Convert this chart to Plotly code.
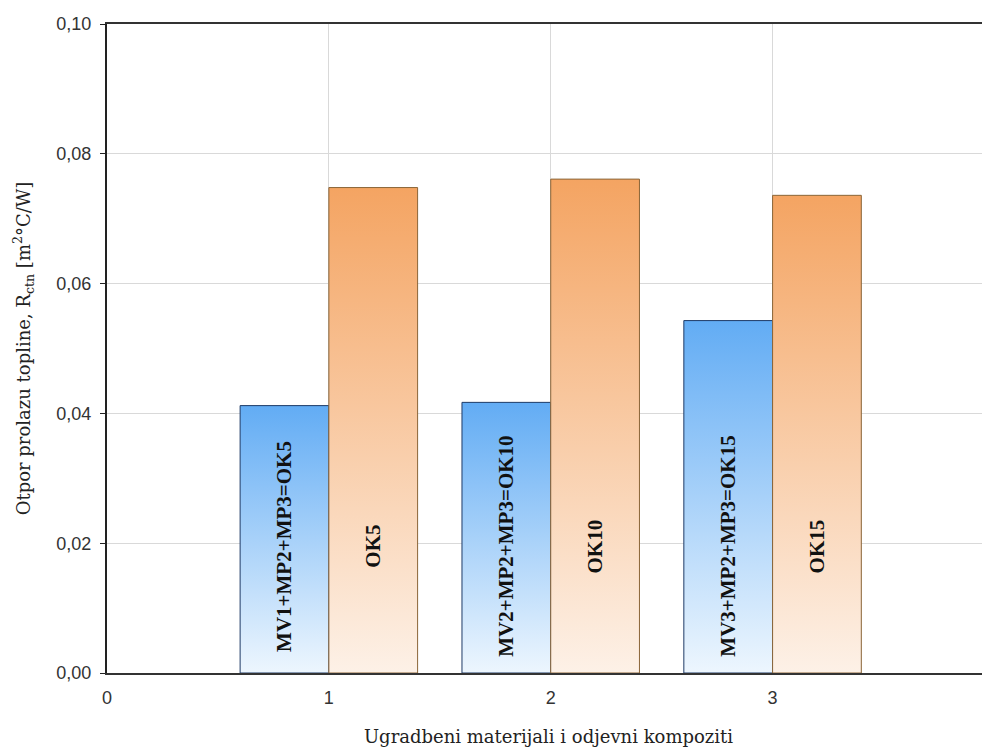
import plotly.graph_objects as go

# ---- data ----
groups = [1, 2, 3]
blue_values = [0.0412, 0.0417, 0.0543]
orange_values = [0.0748, 0.0761, 0.0736]
blue_labels = ["MV1+MP2+MP3=OK5", "MV2+MP2+MP3=OK10", "MV3+MP2+MP3=OK15"]
orange_labels = ["OK5", "OK10", "OK15"]
label_y = [0.0195, 0.0195, 0.0195]
y_tick_vals = [0.0, 0.02, 0.04, 0.06, 0.08, 0.10]
y_tick_text = ["0,00", "0,02", "0,04", "0,06", "0,08", "0,10"]
x_tick_vals = [0, 1, 2, 3, 4]
x_tick_text = ["0", "1", "2", "3", "4"]

# ---- style ----
BAR_W = 0.4
series = [
    dict(values=blue_values, labels=blue_labels, offset=-0.2,
         line="#1e3a66", top="#62acf4", bottom="#edf6fe"),
    dict(values=orange_values, labels=orange_labels, offset=0.2,
         line="#8a6538", top="#f4a462", bottom="#fdf1e7"),
]

fig = go.Figure()
annotations = []
for s in series:
    for g, v, lab, ly in zip(groups, s["values"], s["labels"], label_y):
        xc = g + s["offset"]
        x0, x1 = xc - BAR_W / 2, xc + BAR_W / 2
        fig.add_trace(go.Scatter(
            x=[x0, x0, x1, x1, x0], y=[0, v, v, 0, 0],
            mode="lines", fill="toself",
            fillgradient=dict(type="vertical",
                              colorscale=[[0, s["bottom"]], [1, s["top"]]]),
            line=dict(color=s["line"], width=1),
            showlegend=False, hoverinfo="skip",
        ))
        annotations.append(dict(
            x=xc, y=ly, xref="x", yref="y", text="<b>" + lab + "</b>",
            textangle=-90, showarrow=False,
            font=dict(family="Liberation Serif", size=21, color="#111111"),
        ))

# the page body adds an 8px offset, so the figure is 8px smaller with 8px less margin
fig.update_layout(
    width=982, height=741,
    margin=dict(l=99, r=0, t=16, b=76),
    paper_bgcolor="white", plot_bgcolor="white",
    showlegend=False,
    annotations=annotations,
    xaxis=dict(
        range=[0, 3.98], tickvals=x_tick_vals, ticktext=x_tick_text,
        showgrid=True, gridcolor="#d9d9d9", gridwidth=1,
        zeroline=False, showline=True, linecolor="#333333", linewidth=2,
        mirror=True, ticks="", ticklabelstandoff=7,
        tickfont=dict(family="Liberation Sans", size=18, color="#333333"),
        title=dict(text="Ugradbeni materijali i odjevni kompoziti",
                   font=dict(family="DejaVu Serif", size=18, color="#222222"),
                   standoff=24),
        automargin=False,
    ),
    yaxis=dict(
        range=[0, 0.10], tickvals=y_tick_vals, ticktext=y_tick_text,
        showgrid=True, gridcolor="#d9d9d9", gridwidth=1,
        zeroline=False, showline=True, linecolor="#222222", linewidth=2,
        ticks="outside", ticklen=5, tickcolor="#222222", ticklabelstandoff=5,
        tickfont=dict(family="Liberation Sans", size=18, color="#333333"),
        title=dict(text="Otpor prolazu topline, R<sub>ctn</sub> [m<sup>2</sup>°C/W]",
                   font=dict(family="DejaVu Serif", size=18, color="#222222"),
                   standoff=21),
        automargin=False,
    ),
)

fig.write_html("out.html")
